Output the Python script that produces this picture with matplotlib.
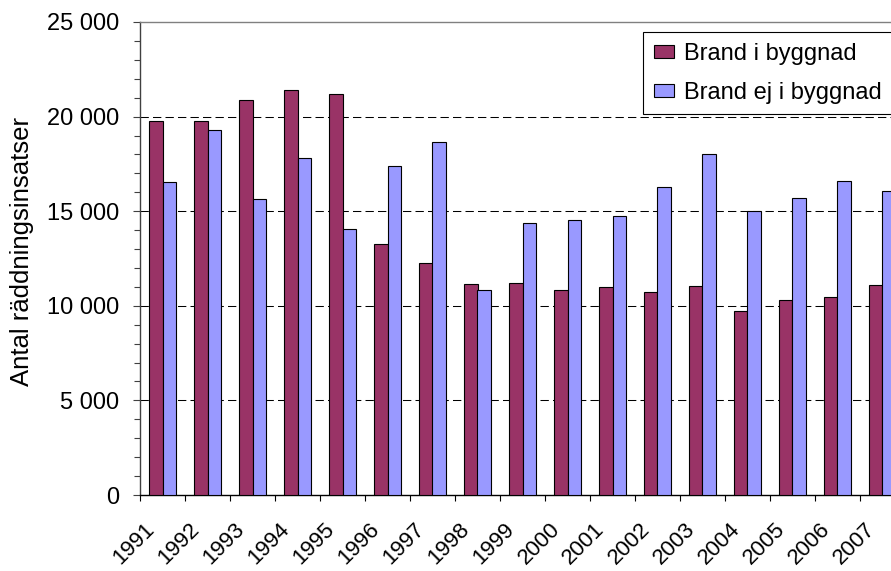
import matplotlib
matplotlib.use("Agg")
import matplotlib.pyplot as plt
import matplotlib.transforms as mtransforms
from matplotlib.patches import Rectangle
from matplotlib.legend_handler import HandlerPatch
import numpy as np
from matplotlib.ticker import FixedLocator, FuncFormatter, MultipleLocator, NullFormatter

years = ["1991", "1992", "1993", "1994", "1995", "1996", "1997", "1998", "1999",
         "2000", "2001", "2002", "2003", "2004", "2005", "2006", "2007"]
brand_i_byggnad = [19750, 19770, 20880, 21410, 21190, 13270, 12280, 11150, 11190,
                   10820, 10980, 10730, 11030, 9710, 10310, 10480, 11080]
brand_ej_i_byggnad = [16540, 19290, 15630, 17790, 14040, 17410, 18680, 10820, 14360,
                      14550, 14730, 16260, 18040, 15030, 15710, 16610, 16080]
series_names = ["Brand i byggnad", "Brand ej i byggnad"]
ylabel = "Antal räddningsinsatser"

plt.rcParams['font.family'] = ['Liberation Sans', 'DejaVu Sans']

W, H = 891, 571
fig = plt.figure(figsize=(W / 100, H / 100), dpi=100)
ax = fig.add_axes([140 / W, 76 / H, 765 / W, 473 / H])

n = len(years)
x = np.arange(n) + 0.5
bw = 0.29
ax.bar(x - bw / 2, brand_i_byggnad, width=bw, color="#993366", edgecolor="black",
       linewidth=0.8, label=series_names[0], zorder=3)
ax.bar(x + bw / 2, brand_ej_i_byggnad, width=bw, color="#9999FF", edgecolor="black",
       linewidth=0.8, label=series_names[1], zorder=3)

ax.set_xlim(0, n)
ax.set_ylim(0, 25000)

# gridlines
for v in [5000, 10000, 15000, 20000]:
    ax.axhline(v, color="black", linewidth=0.75, linestyle=(0, (8, 4)), zorder=1)

# spines
ax.spines['right'].set_visible(False)
ax.spines['top'].set_color("#808080")
ax.spines['top'].set_linewidth(1.0)
ax.spines['left'].set_color("#404040")
ax.spines['left'].set_linewidth(1.0)
ax.spines['bottom'].set_color("black")
ax.spines['bottom'].set_linewidth(1.0)

# y axis
ax.yaxis.set_major_locator(MultipleLocator(5000))
ax.yaxis.set_minor_locator(MultipleLocator(1000))
ax.yaxis.set_major_formatter(FuncFormatter(lambda v, p: f"{int(v):,}".replace(",", " ")))
ax.tick_params(axis='y', which='major', direction='out', length=5, width=0.8,
               labelsize=17, pad=10, color="#404040")
ax.tick_params(axis='y', which='minor', direction='out', length=4, width=0.8, color="#404040")
ax.set_ylabel(ylabel, fontsize=18.5)
ax.yaxis.set_label_coords(-106 / 765, (495 - 251) / 473)

# x axis: boundary ticks, labels at centers
ax.xaxis.set_major_locator(FixedLocator(np.arange(n + 1)))
ax.xaxis.set_major_formatter(NullFormatter())
ax.tick_params(axis='x', which='major', direction='out', length=4, width=0.8)

offset = mtransforms.ScaledTranslation(-11 / 100, -31 / 100, fig.dpi_scale_trans)
trans = mtransforms.blended_transform_factory(ax.transData, ax.transAxes) + offset
for xi, yr in zip(x, years):
    ax.text(xi, 0, yr, transform=trans, rotation=45, ha='right', va='center',
            rotation_mode='anchor', fontsize=16, clip_on=False)


def make_square(legend, orig_handle, xdescent, ydescent, width, height, fontsize):
    s = height
    return Rectangle((-xdescent + width - s, -ydescent), s, s)


leg = ax.legend(loc='upper left', bbox_to_anchor=(643 / W, 1 - 32 / H),
                bbox_transform=fig.transFigure, fontsize=17, frameon=True,
                fancybox=False, shadow=False, handlelength=0.85, handleheight=0.5,
                handletextpad=0.42, labelspacing=0.72, borderpad=0.45,
                borderaxespad=0,
                handler_map={Rectangle: HandlerPatch(patch_func=make_square)})
leg.get_frame().set_edgecolor("black")
leg.get_frame().set_linewidth(0.8)
leg.get_frame().set_alpha(1)

fig.savefig("out.png", dpi=100)
